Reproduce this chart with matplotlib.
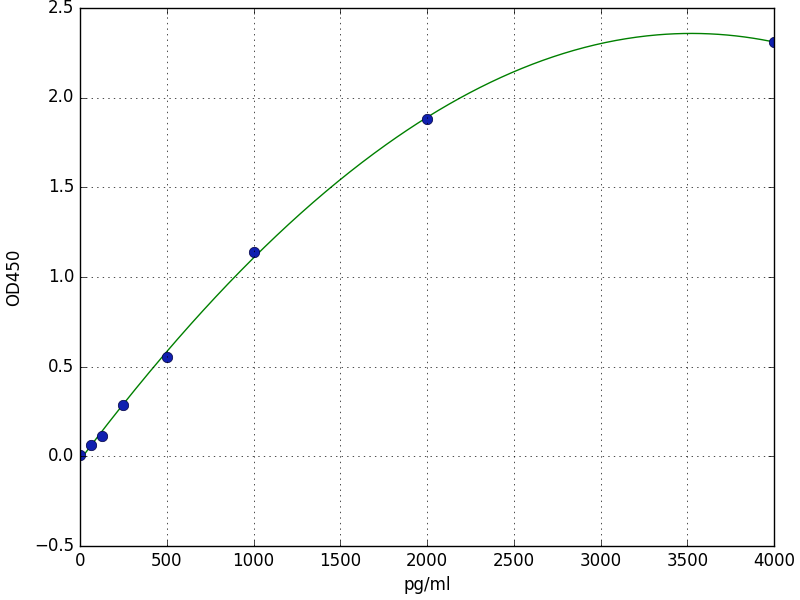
import numpy as np
import matplotlib
matplotlib.use('Agg')
import matplotlib.pyplot as plt

plt.style.use('classic')

conc = [0, 62.5, 125, 250, 500, 1000, 2000, 4000]
od = [0.005, 0.065, 0.115, 0.285, 0.555, 1.14, 1.88, 2.31]

# standard curve fit
coef = np.polyfit(conc, od, 3)
xs = np.linspace(0, 4000, 400)
ys = np.polyval(coef, xs)

fig = plt.figure(figsize=(8, 6), dpi=100, facecolor='white')
ax = fig.add_axes([0.1, 0.09, 0.8675, 0.897])
ax.plot(xs, ys, 'g-')
ax.plot(conc, od, 'o', color='#1020b0', markeredgecolor='#000040', markersize=7.5)
ax.set_xlim(0, 4000)
ax.set_ylim(-0.5, 2.5)
ax.set_xlabel('pg/ml')
ax.set_ylabel('OD450', labelpad=8)
ax.grid(True)

fig.savefig('out.png', dpi=100, facecolor='white')
